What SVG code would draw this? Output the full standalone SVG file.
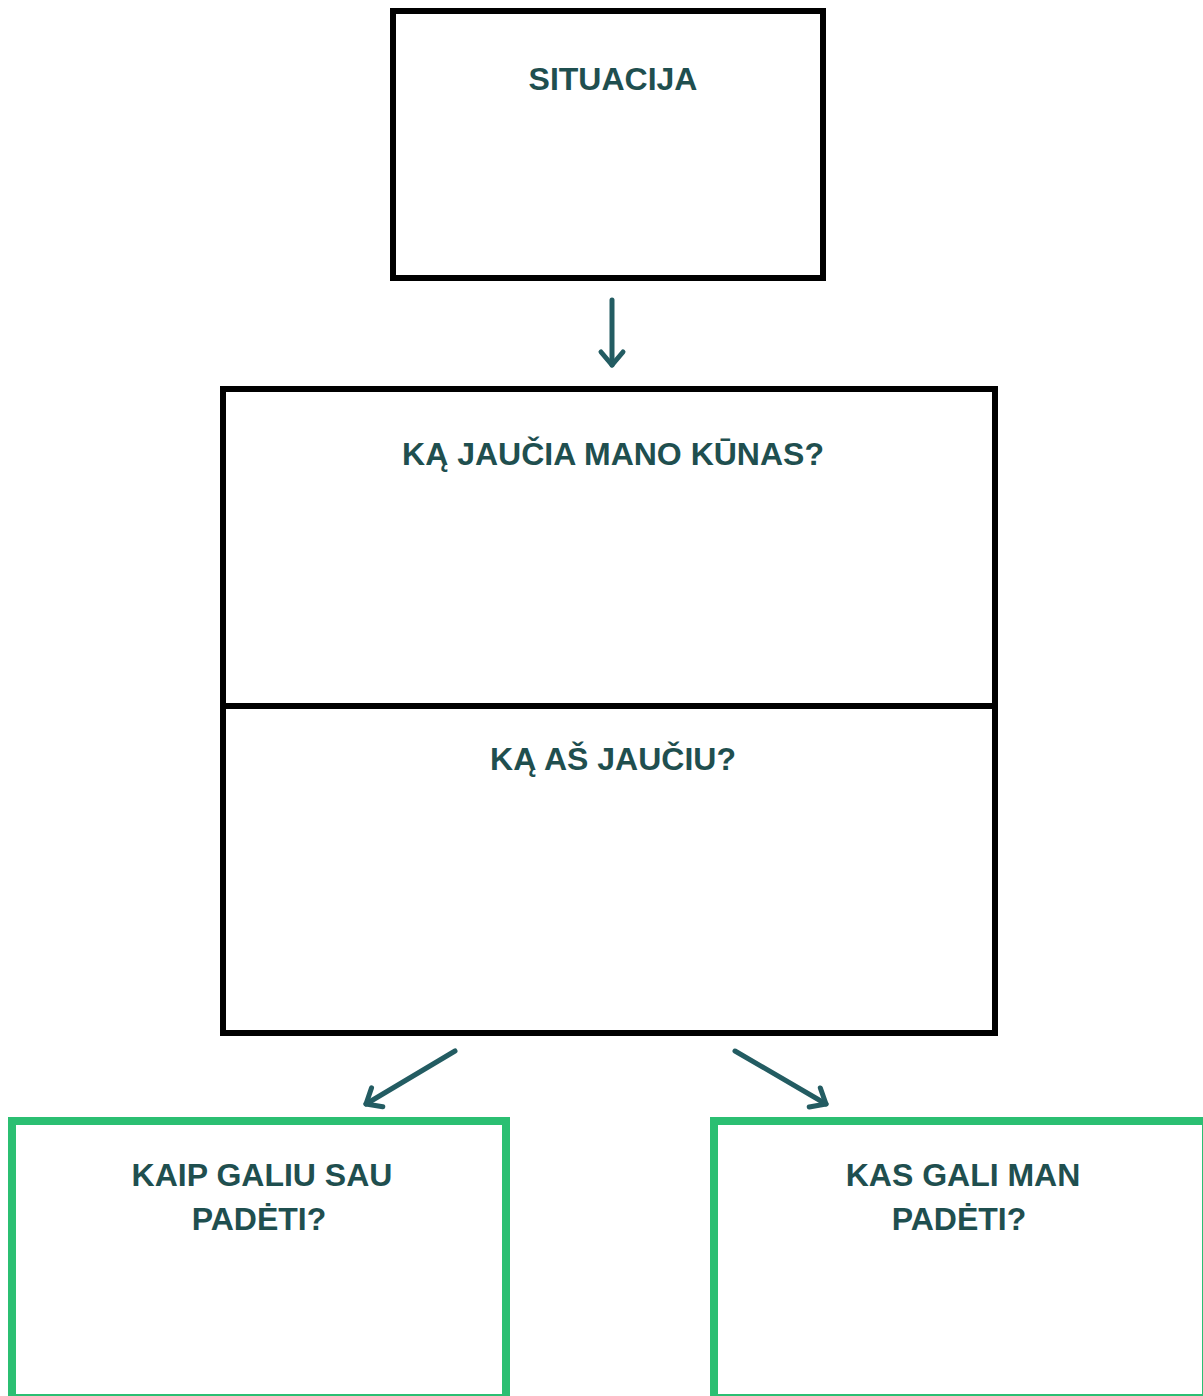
<svg xmlns="http://www.w3.org/2000/svg" width="1203" height="1396" viewBox="0 0 1203 1396">
<style>
.box{fill:#ffffff;stroke:#000000;stroke-width:6}
.gbox{fill:#ffffff;stroke:#2bbf72;stroke-width:8}
.lbl{font-family:"Liberation Sans",Arial,sans-serif;font-weight:bold;font-size:32px;fill:#1f4f4f;text-anchor:middle}
.conn{stroke:#235c62;stroke-width:5;fill:none;stroke-linecap:round}
</style>
<defs>
<marker id="arr" markerUnits="userSpaceOnUse" viewBox="-20 -15 24 30" refX="0" refY="0" markerWidth="24" markerHeight="30" orient="auto">
<path d="M-13,-11 L0,0 L-13,11" fill="none" stroke="#235c62" stroke-width="5" stroke-linecap="round" stroke-linejoin="round"/>
</marker>
</defs>
<rect width="1203" height="1396" fill="#ffffff"/>
<g id="node-situacija">
<rect class="box" x="393" y="11" width="430" height="267"/>
<text class="lbl" x="613" y="90">SITUACIJA</text>
</g>
<g id="node-jausmai">
<rect class="box" x="223" y="389" width="772" height="644"/>
<line x1="223" y1="706" x2="995" y2="706" stroke="#000000" stroke-width="6"/>
<text class="lbl" x="613" y="465">KĄ JAUČIA MANO KŪNAS?</text>
<text class="lbl" x="613" y="770">KĄ AŠ JAUČIU?</text>
</g>
<g id="node-sau">
<rect class="gbox" x="12" y="1121" width="494" height="277"/>
<text class="lbl" x="262" y="1186">KAIP GALIU SAU</text>
<text class="lbl" x="259" y="1230">PADĖTI?</text>
</g>
<g id="node-kas">
<rect class="gbox" x="714" y="1121" width="492" height="277"/>
<text class="lbl" x="963" y="1186">KAS GALI MAN</text>
<text class="lbl" x="959" y="1230">PADĖTI?</text>
</g>
<g id="connectors">
<line class="conn" x1="612" y1="300" x2="612" y2="365" marker-end="url(#arr)"/>
<line class="conn" x1="455" y1="1051" x2="366" y2="1104" marker-end="url(#arr)"/>
<line class="conn" x1="735" y1="1051" x2="826" y2="1104" marker-end="url(#arr)"/>
</g>
</svg>
